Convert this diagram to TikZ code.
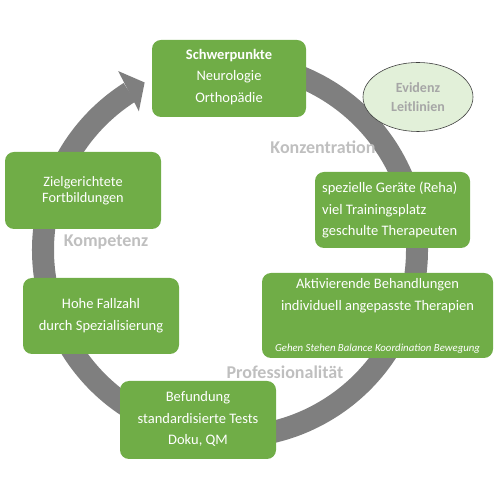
\documentclass[tikz,border=0pt]{standalone}
\usepackage{fontspec}
\setmainfont{Carlito}
\usetikzlibrary{shapes.geometric}
\definecolor{boxgreen}{HTML}{70AD47}
\definecolor{ringgray}{HTML}{7F7F7F}
\definecolor{lblgray}{HTML}{BFBFBF}
\definecolor{evgray}{HTML}{A6A6A6}
\definecolor{evfill}{HTML}{E2F0D9}
\begin{document}
\begin{tikzpicture}[x=1pt,y=1pt,
  gbox/.style={fill=boxgreen, rounded corners=9pt, inner sep=0pt},
  btext/.style={text=white, align=center, inner sep=0pt, font=\fontsize{14.5}{21.5}\selectfont},
  lbl/.style={text=lblgray, inner sep=0pt, font=\fontsize{18}{20}\selectfont\bfseries}]
\useasboundingbox (0,0) rectangle (500,500);
% ring
\begin{scope}[shift={(230,250)}]
\fill[ringgray] (122.5:198) arc[start angle=122.5, end angle=455, radius=198]
  -- (95:176) arc[start angle=455, end angle=122.5, radius=176] -- cycle;
\fill[ringgray] (122:211) -- (117:188) -- (123.3:166) -- cycle;
\end{scope}
% labels
\node[lbl] (kon) at (323,353) {Konzentration};
\node[lbl] (kom) at (106,258) {Kompetenz};
\node[lbl] (pro) at (285,128) {Professionalität};
% boxes
\node[gbox, minimum width=154, minimum height=77] (b1) at (229,421.5) {};
\node[btext] (t1) at (229,423) {\textbf{Schwerpunkte}\\Neurologie\\Orthopädie};
\node[gbox, minimum width=155, minimum height=76] (b2) at (392.5,290) {};
\node[btext, align=left, anchor=west] (t2) at (322,290) {spezielle Geräte (Reha)\\viel Trainingsplatz\\geschulte Therapeuten};
\node[gbox, minimum width=231, minimum height=85] (b3) at (377.5,184.5) {};
\node[btext] (t3) at (377.5,204.5) {Aktivierende Behandlungen\\individuell angepasste Therapien};
\node[text=white, inner sep=0pt, font=\fontsize{10.8}{12}\selectfont\itshape] (t3b) at (377.5,151.7) {Gehen Stehen Balance Koordination Bewegung};
\node[gbox, minimum width=156, minimum height=77] (b4) at (83,309.5) {};
\node[btext, font=\fontsize{14.3}{15.8}\selectfont] (t4) at (83,309.5) {Zielgerichtete\\Fortbildungen};
\node[gbox, minimum width=156, minimum height=76] (b5) at (101,184) {};
\node[btext] (t5) at (101,184.5) {Hohe Fallzahl\\durch Spezialisierung};
\node[gbox, minimum width=156, minimum height=78] (b6) at (198,80) {};
\node[btext] (t6) at (198,81) {Befundung\\standardisierte Tests\\Doku, QM};
% ellipse
\node[ellipse, draw=black!75, line width=0.6pt, fill=evfill, minimum width=110, minimum height=69, inner sep=0pt] (ev) at (418,403) {};
\node[text=evgray, align=center, inner sep=0pt, font=\fontsize{14}{19}\selectfont\bfseries] (evt) at (418,402.5) {Evidenz\\Leitlinien};
\end{tikzpicture}
\end{document}
